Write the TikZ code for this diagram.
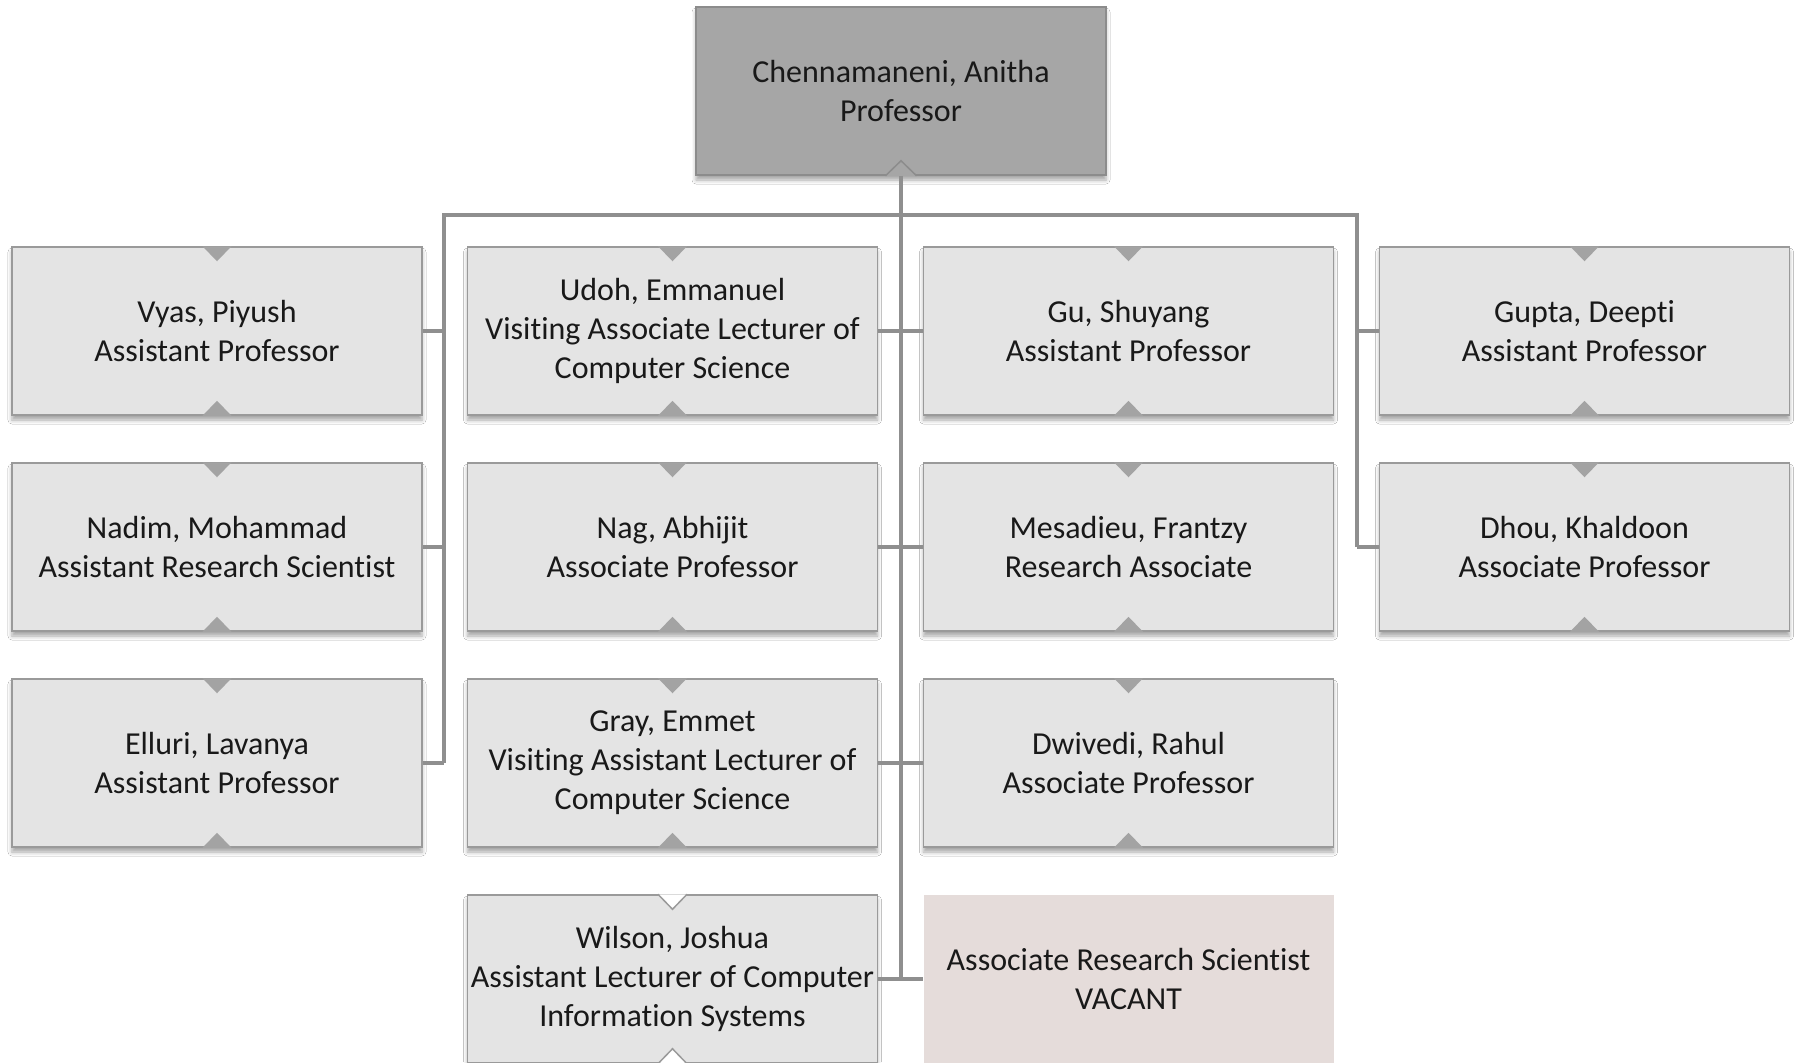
\documentclass[tikz,border=0pt]{standalone}
\usepackage{fontspec}
\setmainfont[Ligatures=NoCommon]{Carlito}
\usetikzlibrary{shadows.blur}
\definecolor{boxfill}{HTML}{E4E4E4}
\definecolor{boxline}{HTML}{9A9A9A}
\definecolor{topfill}{HTML}{A6A6A6}
\definecolor{topline}{HTML}{8C8C8C}
\definecolor{conncol}{HTML}{8F8F8F}
\definecolor{notchcol}{HTML}{A3A3A3}
\definecolor{vacfill}{HTML}{E5DCDA}
\begin{document}
\begin{tikzpicture}[x=0.5pt,y=-0.5pt,
  person/.style={rectangle, minimum width=205pt, minimum height=84pt, inner sep=0pt,
    align=center, font=\fontsize{16}{19.5}\selectfont, text=black!90,
    fill=boxfill, draw=boxline, line width=0.75pt,
    blur shadow={shadow xshift=0pt, shadow yshift=-2.5pt, shadow blur radius=2pt, shadow opacity=35}},
  topbox/.style={person, fill=topfill, draw=topline},
  vacbox/.style={rectangle, minimum width=205pt, minimum height=84pt, inner sep=0pt,
    align=center, font=\fontsize{16}{19.5}\selectfont, text=black!90, fill=vacfill},
  conn/.style={draw=conncol, line width=2pt, line join=miter},
  notch/.style={fill=notchcol}]
\useasboundingbox (0,0) rectangle (1800,1062);
\fill[white] (0,0) rectangle (1800,1062);

\coordinate (busL) at (444,215);
\coordinate (busR) at (1357,215);

\node[topbox] (top) at (901,91) {Chennamaneni, Anitha\\Professor};

\node[person] (vyas) at (217,331) {Vyas, Piyush\\Assistant Professor};
\node[person] (nadim) at (217,547) {Nadim, Mohammad\\Assistant Research Scientist};
\node[person] (elluri) at (217,763) {Elluri, Lavanya\\Assistant Professor};

\node[person] (udoh) at (672.5,331) {Udoh, Emmanuel\\Visiting Associate Lecturer of\\Computer Science};
\node[person] (nag) at (672.5,547) {Nag, Abhijit\\Associate Professor};
\node[person] (gray) at (672.5,763) {Gray, Emmet\\Visiting Assistant Lecturer of\\Computer Science};
\node[person] (wilson) at (672.5,979) {Wilson, Joshua\\Assistant Lecturer of Computer\\Information Systems};

\node[person] (gu) at (1128.5,331) {Gu, Shuyang\\Assistant Professor};
\node[person] (mesadieu) at (1128.5,547) {Mesadieu, Frantzy\\Research Associate};
\node[person] (dwivedi) at (1128.5,763) {Dwivedi, Rahul\\Associate Professor};
\node[vacbox] (vacant) at (1128.5,979) {Associate Research Scientist\\VACANT};

\node[person] (gupta) at (1584.5,331) {Gupta, Deepti\\Assistant Professor};
\node[person] (dhou) at (1584.5,547) {Dhou, Khaldoon\\Associate Professor};

% connectors
\draw[conn] (top.south) -- (top.south |- wilson.east);
\draw[conn] (busL |- elluri.east) -- (busL) -- (busR) -- (busR |- dhou.east);
\foreach \n in {vyas,nadim,elluri} \draw[conn] (\n.east) -- (\n.east -| busL);
\foreach \n in {gupta,dhou} \draw[conn] (\n.west) -- (\n.west -| busR);
\draw[conn] (udoh.east) -- (gu.west);
\draw[conn] (nag.east) -- (mesadieu.west);
\draw[conn] (gray.east) -- (dwivedi.west);
\draw[conn] (wilson.east) -- (vacant.west);

% notches
\foreach \n in {vyas,nadim,elluri,udoh,nag,gray,gu,mesadieu,dwivedi,gupta,dhou} {
  \fill[notch] ([xshift=-7.25pt]\n.north) -- ([xshift=7.25pt]\n.north) -- ([yshift=-7.5pt]\n.north) -- cycle;
  \fill[notch] ([xshift=-7.25pt]\n.south) -- ([xshift=7.25pt]\n.south) -- ([yshift=7.5pt]\n.south) -- cycle;
}
\fill[topfill] ([xshift=-7.75pt]top.south) -- ([xshift=7.75pt]top.south) -- ([yshift=7.5pt]top.south) -- cycle;
\draw[topline, line width=0.75pt] ([xshift=-7.75pt]top.south) -- ([yshift=7.5pt]top.south) -- ([xshift=7.75pt]top.south);
\draw[conn] (top.south) -- ([yshift=-4pt]top.south);
\fill[white] ([xshift=-7.25pt]wilson.north) -- ([xshift=7.25pt]wilson.north) -- ([yshift=-7.5pt]wilson.north) -- cycle;
\draw[boxline, line width=0.75pt] ([xshift=-7.25pt]wilson.north) -- ([yshift=-7.5pt]wilson.north) -- ([xshift=7.25pt]wilson.north);
\fill[white] ([xshift=-7.25pt]wilson.south) -- ([xshift=7.25pt]wilson.south) -- ([yshift=7.5pt]wilson.south) -- cycle;
\draw[boxline, line width=0.75pt] ([xshift=-7.25pt]wilson.south) -- ([yshift=7.5pt]wilson.south) -- ([xshift=7.25pt]wilson.south);
\end{tikzpicture}
\end{document}
